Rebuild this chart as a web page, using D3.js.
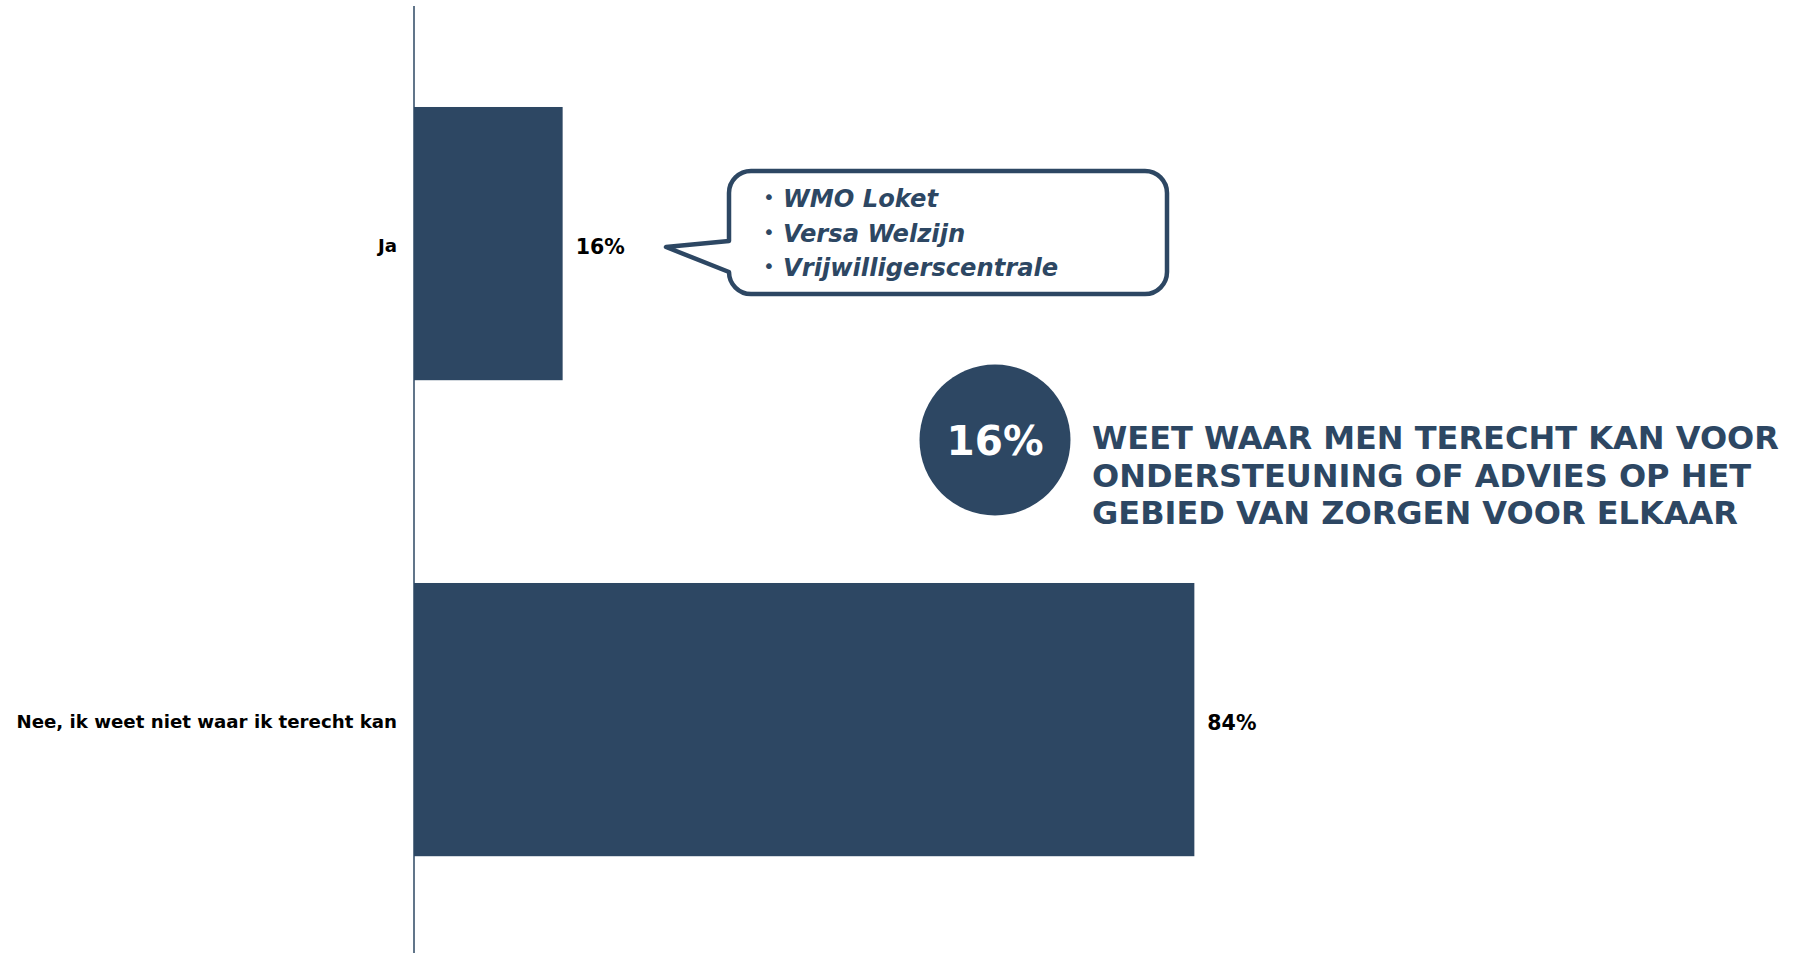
<!DOCTYPE html>
<html>
<head>
<meta charset="utf-8">
<script src="https://cdn.jsdelivr.net/npm/d3@7"></script>
<style>
  html, body { margin: 0; padding: 0; background: #ffffff; }
  svg { display: block; }
</style>
</head>
<body>
<svg id="chart" width="1806" height="953"></svg>
<script>
// ---- data ----
const categories = ["Ja", "Nee, ik weet niet waar ik terecht kan"];
const values = [16, 84];
const valueLabels = ["16%", "84%"];
const calloutItems = ["WMO Loket", "Versa Welzijn", "Vrijwilligerscentrale"];
const highlightValue = "16%";
const highlightLines = [
  "WEET WAAR MEN TERECHT KAN VOOR",
  "ONDERSTEUNING OF ADVIES OP HET",
  "GEBIED VAN ZORGEN VOOR ELKAAR"
];

const COLOR = "#2D4763";
const FONT = "'DejaVu Sans', Verdana, sans-serif";

const svg = d3.select("#chart");

const x = d3.scaleLinear().domain([0, 100]).range([414, 1343]);
const y = d3.scaleBand().domain(categories).range([5.6, 957.6])
  .paddingInner(0.426).paddingOuter(0.213);

// bars
svg.selectAll("rect.bar").data(categories).enter().append("rect")
  .attr("class", "bar")
  .attr("x", x(0))
  .attr("y", d => y(d))
  .attr("width", (d, i) => x(values[i]) - x(0))
  .attr("height", y.bandwidth())
  .attr("fill", COLOR);

// axis line
svg.append("line")
  .attr("x1", x(0)).attr("x2", x(0))
  .attr("y1", 6).attr("y2", 953)
  .attr("stroke", COLOR).attr("stroke-width", 1.5);

// category labels
svg.selectAll("text.cat").data(categories).enter().append("text")
  .attr("class", "cat")
  .attr("x", x(0) - 17)
  .attr("y", d => y(d) + y.bandwidth() / 2 + 2)
  .attr("dy", "0.35em")
  .attr("text-anchor", "end")
  .attr("font-family", FONT).attr("font-weight", "bold").attr("font-size", 18.2)
  .attr("fill", "#000")
  .text(d => d);

// value labels
svg.selectAll("text.val").data(categories).enter().append("text")
  .attr("class", "val")
  .attr("x", (d, i) => x(values[i]) + 13)
  .attr("y", d => y(d) + y.bandwidth() / 2 + 3)
  .attr("dy", "0.35em")
  .attr("text-anchor", "start")
  .attr("font-family", FONT).attr("font-weight", "bold").attr("font-size", 20.5)
  .attr("fill", "#000")
  .text((d, i) => valueLabels[i]);

// ---- speech bubble callout ----
const bx0 = 729, bx1 = 1167, by0 = 171, by1 = 294, r = 22;
const tipX = 666, tipY = 247, tailTop = 241;
const p = d3.path();
p.moveTo(bx0 + r, by0);
p.lineTo(bx1 - r, by0);
p.arcTo(bx1, by0, bx1, by0 + r, r);
p.lineTo(bx1, by1 - r);
p.arcTo(bx1, by1, bx1 - r, by1, r);
p.lineTo(bx0 + r, by1);
p.arcTo(bx0, by1, bx0, by1 - r, r);
p.lineTo(tipX, tipY);
p.lineTo(bx0, tailTop);
p.lineTo(bx0, by0 + r);
p.arcTo(bx0, by0, bx0 + r, by0, r);
p.closePath();
svg.append("path")
  .attr("d", p.toString())
  .attr("fill", "#fff")
  .attr("stroke", COLOR)
  .attr("stroke-width", 4.5)
  .attr("stroke-linejoin", "round");

const itemG = svg.append("g");
calloutItems.forEach((t, i) => {
  const base = 207 + i * 34.5;
  itemG.append("text")
    .attr("x", 769).attr("y", base - 3)
    .attr("text-anchor", "middle")
    .attr("font-family", FONT).attr("font-size", 20)
    .attr("fill", COLOR)
    .text("•");
  itemG.append("text")
    .attr("x", 783).attr("y", base)
    .attr("font-family", FONT).attr("font-weight", "bold").attr("font-style", "italic")
    .attr("font-size", 24.2)
    .attr("fill", COLOR)
    .text(t);
});

// ---- highlight circle + headline ----
svg.append("circle")
  .attr("cx", 995).attr("cy", 440).attr("r", 75.5)
  .attr("fill", COLOR);
svg.append("text")
  .attr("x", 995).attr("y", 440)
  .attr("dy", "0.36em")
  .attr("text-anchor", "middle")
  .attr("font-family", FONT).attr("font-weight", "bold").attr("font-size", 40.5)
  .attr("fill", "#fff")
  .text(highlightValue);

svg.selectAll("text.head").data(highlightLines).enter().append("text")
  .attr("class", "head")
  .attr("x", 1092)
  .attr("y", (d, i) => 449 + i * 37.5)
  .attr("font-family", FONT).attr("font-weight", "bold").attr("font-size", 32)
  .attr("fill", COLOR)
  .text(d => d);
</script>
</body>
</html>
